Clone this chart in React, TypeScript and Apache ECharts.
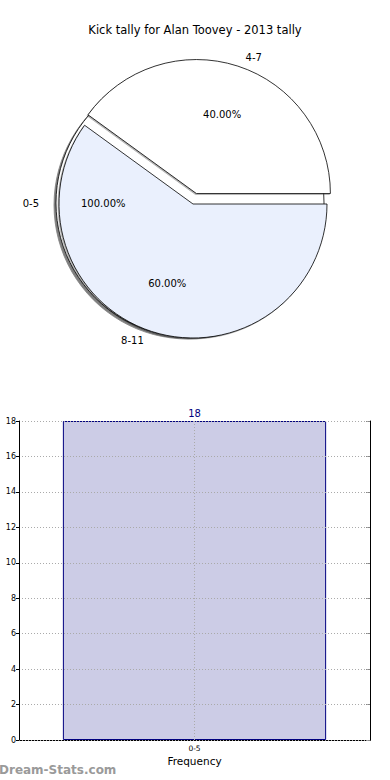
import React, { useEffect, useRef } from "react";
import * as echarts from "echarts";

const titleText = "Kick tally for Alan Toovey - 2013 tally";
const pieCategories = ["0-5", "4-7", "8-11"];
const piePercents = [100, 40, 60];
const barCategories = ["0-5"];
const barValues = [18];
const yTicks = { min: 0, max: 18, interval: 2 };
const xAxisName = "Frequency";
const yAxisName = "Stat Value Tally";
const watermark = "Dream-Stats.com";

const FONT = "DejaVu Sans";

export default function App() {
  const ref = useRef<HTMLDivElement>(null);
  useEffect(() => {
    document.body.style.margin = "0";
    const chart = echarts.init(ref.current!, null, { renderer: "svg" });
    const R = 134;
    const bgCenter = [190, 203];
    const mainCenter = [193, 204];
    const fmtPct = (p: any) => Number(p.value).toFixed(2) + "%";
    const bgData = [{ name: pieCategories[0], value: piePercents[0] }];
    const mainData = [
      { name: pieCategories[1], value: piePercents[1], selected: true },
      { name: pieCategories[2], value: piePercents[2] },
    ];
    const common = {
      type: "pie",
      startAngle: 0,
      clockwise: false,
      avoidLabelOverlap: false,
      emphasis: { disabled: true },
      selectedMode: "single",
      selectedOffset: 11,
      silent: true,
    };
    const nameLabel = {
      show: true,
      position: "outside",
      formatter: "{b}",
      fontSize: 10,
      color: "#000",
      fontFamily: FONT,
      distanceToLabelLine: 5,
    };
    const pctLabel = {
      show: true,
      position: "inside",
      formatter: fmtPct,
      fontSize: 10,
      color: "#000",
      fontFamily: FONT,
    };
    chart.setOption({
      animation: false,
      textStyle: { fontFamily: FONT },
      title: {
        text: titleText,
        left: "center",
        top: 19,
        textStyle: { fontSize: 11.5, fontWeight: "normal", color: "#000", fontFamily: FONT },
      },
      grid: {
        left: 19,
        right: 20,
        top: 421,
        bottom: 40,
        containLabel: false,
        outerBoundsMode: "none",
      },
      xAxis: [
        {
          type: "category",
          data: barCategories,
          position: "bottom",
          axisLine: { lineStyle: { color: "#000", width: 1 } },
          axisTick: { show: true, alignWithLabel: true, inside: true, length: 3, lineStyle: { color: "#000" } },
          axisLabel: { fontSize: 7.5, color: "#000", margin: 4, fontFamily: FONT },
          splitLine: { show: false },
          name: xAxisName,
          nameLocation: "middle",
          nameGap: 15,
          nameTextStyle: { fontSize: 10.5, color: "#000", fontFamily: FONT },
        },
        {
          type: "category",
          data: barCategories,
          position: "top",
          axisLine: { lineStyle: { color: "#000", width: 1 } },
          axisTick: { show: false },
          axisLabel: { show: false },
        },
      ],
      yAxis: [
        {
          type: "value",
          min: yTicks.min,
          max: yTicks.max,
          interval: yTicks.interval,
          position: "left",
          z: 5,
          axisLine: { show: true, lineStyle: { color: "#000", width: 1 } },
          axisTick: { show: true, length: 3, lineStyle: { color: "#000" } },
          axisLabel: { fontSize: 8, color: "#000", margin: 3, fontFamily: FONT },
          splitLine: { show: true, lineStyle: { color: "#aaa", type: [1, 2], width: 1 } },
          name: yAxisName,
          nameLocation: "middle",
          nameRotate: 90,
          nameGap: 20,
          nameTextStyle: { fontSize: 10, color: "#000", fontFamily: FONT },
        },
        {
          type: "value",
          min: yTicks.min,
          max: yTicks.max,
          interval: yTicks.interval,
          position: "right",
          axisLine: { show: true, lineStyle: { color: "#000", width: 1 } },
          axisTick: { show: true, inside: true, length: 4, lineStyle: { color: "#888" } },
          axisLabel: { show: false },
          splitLine: { show: false },
        },
      ],
      graphic: [
        {
          type: "text",
          left: -1,
          top: 764,
          style: { text: watermark, fill: "#9a9a9a", font: "bold 12px 'DejaVu Sans'" },
        },
      ],
      series: [
        {
          ...common,
          center: bgCenter,
          radius: R,
          data: bgData,
          label: nameLabel,
          labelLine: { show: false, length: 12, length2: 0 },
          itemStyle: {
            color: "#fff",
            borderColor: "#000",
            borderWidth: 0.8,
            shadowColor: "rgba(0,0,0,0.5)",
            shadowOffsetX: -2,
            shadowOffsetY: 2,
            shadowBlur: 1,
          },
        },
        {
          ...common,
          center: mainCenter,
          radius: R,
          data: mainData,
          label: nameLabel,
          labelLine: { show: false, length: 9, length2: 0 },
          color: ["#ffffff", "#eaf0fd"],
          itemStyle: {
            borderColor: "#000",
            borderWidth: 0.8,
            shadowColor: "rgba(0,0,0,0.3)",
            shadowOffsetX: -1,
            shadowOffsetY: 1,
            shadowBlur: 1,
          },
        },
        {
          ...common,
          center: bgCenter,
          radius: [0, R * 1.25],
          data: bgData,
          label: pctLabel,
          labelLine: { show: false },
          itemStyle: { color: "rgba(0,0,0,0)", borderWidth: 0 },
        },
        {
          ...common,
          center: mainCenter,
          radius: [0, R * 1.2],
          data: mainData,
          label: pctLabel,
          labelLine: { show: false },
          itemStyle: { color: "rgba(0,0,0,0)", borderWidth: 0 },
        },
        {
          type: "bar",
          xAxisIndex: 0,
          yAxisIndex: 0,
          data: barValues,
          barWidth: "75%",
          silent: true,
          itemStyle: { color: "#ccccE6", borderColor: "#000080", borderWidth: 1 },
          label: {
            show: true,
            position: "top",
            distance: 3,
            color: "#000080",
            fontSize: 10,
            fontFamily: FONT,
          },
          markLine: {
            silent: true,
            symbol: "none",
            label: { show: false },
            lineStyle: { color: "#aaa", type: [1, 2], width: 1 },
            data: barCategories.map((c) => ({ xAxis: c })),
          },
        },
      ],
    });
    return () => chart.dispose();
  }, []);
  return (
    <div
      ref={ref}
      style={{ position: "absolute", left: 0, top: 0, width: 390, height: 780 }}
    />
  );
}
